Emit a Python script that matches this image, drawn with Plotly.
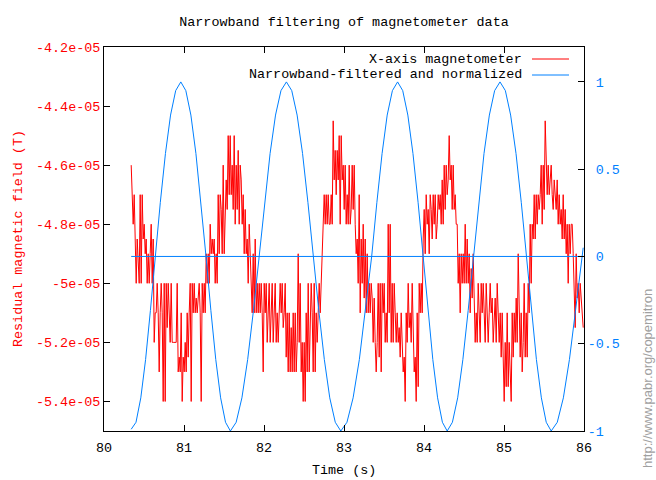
import plotly.graph_objects as go

# ---------------- data ----------------
# X-axis magnetometer, sampled every red_dt seconds from red_t0 (values in microtesla)
red_t0 = 80.34
red_dt = 0.0125
red_field_uT = [
    -46, -47, -48, -47, -48.5, -50, -48.5, -49.5, -50, -47,
    -50, -47, -48.5, -48, -49, -48.5, -50, -49, -50, -49,
    -48, -50, -48.5, -52, -51, -51, -50, -51, -53, -51,
    -50, -51, -54, -50, -54, -50, -51.5, -50, -51.5, -52,
    -50, -52, -52, -52, -52, -52, -50, -53, -52.5, -53,
    -51, -54, -52.5, -53, -52, -53, -51, -52.5, -51, -50,
    -54, -50, -51, -50, -51, -50.5, -51, -50.5, -50, -51,
    -54, -50, -51, -50, -51, -49, -50, -49, -50, -48,
    -49, -48.5, -49, -48.5, -50, -49, -50, -47, -49, -47,
    -47.5, -49, -46, -49, -47.5, -46.5, -47.5, -45, -47, -45,
    -47, -46, -47.5, -45, -48, -46, -47.5, -45.5, -48, -46,
    -46.5, -48, -47, -49, -47.5, -49, -48.5, -50, -48, -49,
    -50, -51, -49, -51, -48.5, -51, -50, -51, -50, -51,
    -50, -51, -53, -50, -51, -50, -52, -51, -50, -52,
    -51, -50, -52, -51, -50, -52, -51, -52, -51, -50,
    -51, -50, -51.5, -51, -50, -52.5, -51, -53, -51, -53,
    -51.5, -53, -51, -53, -51, -53, -52, -49, -52, -50,
    -53, -52, -54, -52, -54, -51, -53, -50, -53, -51,
    -50, -51, -53, -50, -53, -51, -52, -51, -50, -51,
    -50, -49, -48, -47, -48, -47, -48, -47, -48, -48,
    -47, -48, -44.5, -46.5, -45.5, -47, -45.5, -46.5, -45, -48,
    -45, -46.5, -46, -47.5, -46, -48, -47, -48, -46, -48,
    -47.5, -46, -47.5, -46, -48, -49, -48.5, -50, -47, -51,
    -48.5, -50, -48, -50.5, -48.5, -51, -49, -51, -50, -51,
    -50, -50.5, -52, -50.5, -52, -53, -52, -50, -52.5, -50,
    -53, -50, -51, -50, -52, -51, -52, -48, -51, -48,
    -52, -50, -52, -50, -51, -52, -51, -52, -51.5, -52.5,
    -51, -52, -53, -52.5, -54, -51, -52, -50, -51.5, -51,
    -52, -50, -51.5, -53, -52.5, -54, -51, -53.5, -50, -51,
    -50, -51, -48.5, -47.5, -49, -47, -48, -47.5, -49, -47,
    -47.5, -48.5, -47, -48, -47, -48.5, -48, -47, -47.5, -47,
    -48, -46.5, -48, -46, -47.5, -46, -47, -46.5, -45, -46.5,
    -46, -47.5, -46, -47.5, -47, -48, -48, -50, -49, -51,
    -49, -50, -49, -50, -48, -50, -48.5, -50, -49, -51,
    -49.5, -50.5, -49, -50.5, -52, -51, -52, -50, -51, -52,
    -50, -51, -50, -51, -52, -50, -51, -52, -51, -50,
    -51, -50.5, -52, -51, -50.5, -52, -50, -51, -52, -51,
    -52.5, -51, -53, -54, -52, -53.5, -51, -53.5, -52, -53,
    -54, -51, -52.5, -51, -52, -50.5, -52, -49, -51.5, -52.5,
    -51, -53, -52, -50, -52.5, -51, -52.5, -50, -51, -48,
    -50, -48, -48.5, -47, -48.5, -47, -48, -47, -47.5, -47,
    -46, -48, -46, -47.5, -44.5, -46.5, -47, -46, -47, -46.5,
    -46, -47, -47.5, -46.5, -47, -47.5, -46.5, -48, -47, -48,
    -47.5, -48.5, -47, -48.5, -47.5, -49, -48, -50, -48, -49,
    -48, -48, -49, -50, -51.5, -49, -50.5, -50, -51, -50,
    -50.5, -51, -51.5,
]
red_field_T = [v * 1e-6 for v in red_field_uT]

# Narrowband-filtered and normalized signal
blue_t = [
    80.34, 80.40, 80.46, 80.52, 80.58, 80.64,
    80.704, 80.768, 80.832, 80.896, 80.96,
    81.023, 81.086, 81.149, 81.212, 81.275,
    81.336, 81.397, 81.458, 81.519, 81.58,
    81.652, 81.724, 81.796, 81.868, 81.94,
    82.008, 82.076, 82.144, 82.212, 82.28,
    82.347, 82.414, 82.482, 82.549, 82.616,
    82.685, 82.754, 82.822, 82.891, 82.96,
    83.037, 83.114, 83.192, 83.269, 83.346,
    83.411, 83.476, 83.540, 83.605, 83.67,
    83.734, 83.798, 83.862, 83.926, 83.99,
    84.05, 84.11, 84.17, 84.23, 84.29,
    84.355, 84.421, 84.486, 84.552, 84.617,
    84.684, 84.750, 84.817, 84.883, 84.95,
    85.017, 85.083, 85.150, 85.216, 85.283,
    85.344, 85.405, 85.467, 85.528, 85.59,
    85.666, 85.742, 85.818, 85.894, 85.97,
    85.99,
]
blue_norm = [
    -0.99, -0.95, -0.81, -0.59, -0.31, 0.0,
    0.31, 0.59, 0.81, 0.95, 1.0,
    0.95, 0.81, 0.59, 0.31, 0.0,
    -0.31, -0.59, -0.81, -0.95, -1.0,
    -0.95, -0.81, -0.59, -0.31, 0.0,
    0.31, 0.59, 0.81, 0.95, 1.0,
    0.95, 0.81, 0.59, 0.31, 0.0,
    -0.31, -0.59, -0.81, -0.95, -1.0,
    -0.95, -0.81, -0.59, -0.31, 0.0,
    0.31, 0.59, 0.81, 0.95, 1.0,
    0.95, 0.81, 0.59, 0.31, 0.0,
    -0.31, -0.59, -0.81, -0.95, -1.0,
    -0.95, -0.81, -0.59, -0.31, 0.0,
    0.31, 0.59, 0.81, 0.95, 1.0,
    0.95, 0.81, 0.59, 0.31, 0.0,
    -0.31, -0.59, -0.81, -0.95, -1.0,
    -0.95, -0.81, -0.59, -0.31, 0.0,
    0.05,
]

# zero reference line of the normalized signal
zero_t = [80.34, 86.0]
zero_val = [0.0, 0.0]

x_tickvals = [80, 81, 82, 83, 84, 85, 86]
x_ticktext = ["80", "81", "82", "83", "84", "85", "86"]
y1_tickvals = [-5.4e-05, -5.2e-05, -5.0e-05, -4.8e-05, -4.6e-05, -4.4e-05, -4.2e-05]
y1_ticktext = ["-5.4e-05", "-5.2e-05", "-5e-05", "-4.8e-05", "-4.6e-05", "-4.4e-05", "-4.2e-05"]
y2_tickvals = [-1, -0.5, 0, 0.5, 1]
y2_ticktext = ["-1", "-0.5", "\u00a00", "\u00a00.5", "\u00a01"]

legend_labels = ["X-axis magnetometer", "Narrowband-filtered and normalized"]

# ---------------- style ----------------
RED = "#ff0000"
BLUE = "rgb(0,128,255)"
MONO = "Liberation Mono"
FS = 13.4

fig = go.Figure()
fig.add_trace(go.Scatter(x0=red_t0, dx=red_dt, y=red_field_T, mode="lines",
                         line=dict(color=RED, width=1), name=legend_labels[0],
                         yaxis="y", showlegend=False))
fig.add_trace(go.Scatter(x=blue_t, y=blue_norm, mode="lines",
                         line=dict(color=BLUE, width=1), name=legend_labels[1],
                         yaxis="y2", showlegend=False))
fig.add_trace(go.Scatter(x=zero_t, y=zero_val, mode="lines",
                         line=dict(color=BLUE, width=1), yaxis="y2",
                         showlegend=False, hoverinfo="skip"))

L, R, T, B = 104, 72, 47, 49
W, H = 656, 480
pw, ph = W - L - R, H - T - B

def px2paper_x(px):
    return (px - L) / pw

def px2paper_y(py):
    return 1 - (py - T) / ph

annotations = [
    dict(text="Residual magnetic field (T)", x=0, y=0.5, xref="paper", yref="paper",
         xshift=-86, textangle=-90, showarrow=False, xanchor="center", yanchor="middle",
         font=dict(family=MONO, size=FS, color=RED)),
    dict(text="Time (s)", x=0.5, y=0, xref="paper", yref="paper", yshift=-39,
         showarrow=False, xanchor="center", yanchor="middle",
         font=dict(family=MONO, size=FS, color="black")),
    dict(text="http://www.pabr.org/copemitron", x=1, y=px2paper_y(379), xref="paper",
         yref="paper", xshift=63, textangle=-90, showarrow=False, xanchor="center",
         yanchor="middle", font=dict(family="Liberation Sans", size=13, color="#a0a0a0")),
]
shapes = []
for i, (lab, col) in enumerate(zip(legend_labels, [RED, BLUE])):
    yy = px2paper_y(59 + 16 * i)
    annotations.append(dict(text=lab, x=px2paper_x(524), y=yy, xref="paper", yref="paper",
                            showarrow=False, xanchor="right", yanchor="middle",
                            font=dict(family=MONO, size=FS, color="black")))
    shapes.append(dict(type="line", xref="paper", yref="paper",
                       x0=px2paper_x(532), x1=px2paper_x(569), y0=yy, y1=yy,
                       line=dict(color=col, width=1)))

axis_common = dict(showgrid=False, zeroline=False, showline=True, linecolor="black",
                   linewidth=1, ticks="inside", ticklen=6, tickcolor="black")

fig.update_layout(
    width=W, height=H,
    margin=dict(l=L, r=R, t=T, b=B, pad=0),
    paper_bgcolor="white", plot_bgcolor="white",
    title=dict(text="Narrowband filtering of magnetometer data", x=0.5, xref="paper",
               xanchor="center", y=1 - 21 / H, yanchor="middle",
               font=dict(family=MONO, size=FS, color="black")),
    xaxis=dict(range=[80, 86], tickvals=x_tickvals, ticktext=x_ticktext, mirror="ticks",
               ticklabelstandoff=4,
               tickfont=dict(family=MONO, size=FS, color="black"), **axis_common),
    yaxis=dict(range=[-5.5e-05, -4.2e-05], tickvals=y1_tickvals, ticktext=y1_ticktext,
               tickfont=dict(family=MONO, size=FS, color=RED), **axis_common),
    yaxis2=dict(range=[-1, 1.2], tickvals=y2_tickvals, ticktext=y2_ticktext,
                overlaying="y", side="right",
                tickfont=dict(family=MONO, size=FS, color=BLUE), **axis_common),
    annotations=annotations,
    shapes=shapes,
    showlegend=False,
)

fig.write_html("out.html", config={"displayModeBar": False})
